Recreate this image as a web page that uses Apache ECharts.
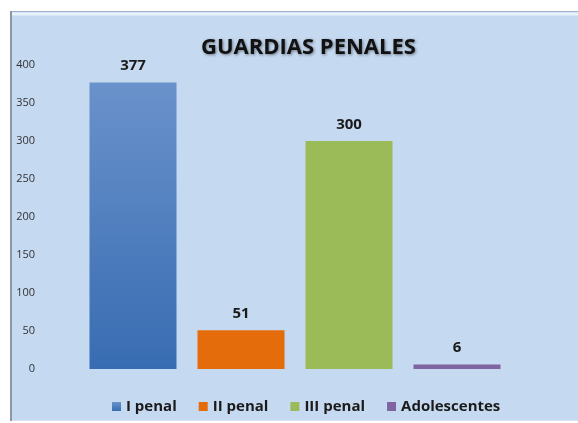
<!DOCTYPE html>
<html>
<head>
<meta charset="utf-8">
<script src="https://cdn.jsdelivr.net/npm/echarts@6/dist/echarts.min.js"></script>
<style>
  html, body { margin: 0; padding: 0; background: #fff; }
  #chart { width: 578px; height: 423px; }
</style>
</head>
<body>
<div id="chart"></div>
<script>
// datos del gráfico
const categories = ['I penal', 'II penal', 'III penal', 'Adolescentes'];
const values = [377, 51, 300, 6];
const colors = [
  new echarts.graphic.LinearGradient(0, 0, 0, 1, [
    { offset: 0, color: '#6a92cb' },
    { offset: 1, color: '#386cb2' }
  ]),
  '#e46c0a', '#9bbb59', '#8064a2'
];
const legendColors = ['#4a7cc0', '#e46c0a', '#9bbb59', '#8064a2'];
const yTicks = { min: 0, max: 400, interval: 50 };

let chartDom = document.getElementById('chart');
let myChart = echarts.init(chartDom);

// una serie por categoría para que la leyenda muestre cada color
let series = categories.map((name, i) => ({
  name: name,
  type: 'bar',
  barWidth: 87,
  barGap: '-100%',
  data: values.map((v, j) => (j === i ? v : '-')),
  itemStyle: { color: colors[i] },
  label: {
    show: true,
    position: 'top',
    distance: 9,
    color: '#1a1a1a',
    fontFamily: 'Open Sans',
    fontWeight: 'bold',
    fontSize: 15
  }
}));

let option = {
  backgroundColor: '#ffffff',
  color: legendColors,
  graphic: [
    {
      type: 'rect',
      z: -10,
      shape: { x: 10, y: 11, width: 568, height: 410 },
      style: { fill: '#c5d9f1' }
    },
    {
      type: 'line',
      z: -9,
      shape: { x1: 10, y1: 11.5, x2: 578, y2: 11.5 },
      style: { stroke: '#9fb1c8', lineWidth: 1 }
    },
    {
      type: 'line',
      z: -9,
      shape: { x1: 12, y1: 14, x2: 578, y2: 14 },
      style: { stroke: '#e8f4fc', lineWidth: 3 }
    },
    {
      type: 'line',
      z: -9,
      shape: { x1: 11, y1: 11, x2: 11, y2: 421 },
      style: { stroke: '#8d98a6', lineWidth: 2 }
    },
    {
      type: 'line',
      z: -9,
      shape: { x1: 12, y1: 420.5, x2: 578, y2: 420.5 },
      style: { stroke: '#d6e4f4', lineWidth: 1 }
    }
  ],
  title: {
    text: 'GUARDIAS PENALES',
    left: 196,
    top: 32,
    textStyle: {
      fontFamily: 'Open Sans',
      fontWeight: 'bold',
      fontSize: 22,
      color: '#111',
      textShadowColor: 'rgba(0,0,0,0.45)',
      textShadowBlur: 3,
      textShadowOffsetX: 1,
      textShadowOffsetY: 1
    }
  },
  legend: {
    data: categories,
    left: 107,
    top: 394,
    itemWidth: 9,
    itemHeight: 9,
    itemGap: 22,
    icon: 'rect',
    textStyle: {
      fontFamily: 'Open Sans',
      fontWeight: 'bold',
      fontSize: 15,
      color: '#1a1a1a'
    }
  },
  grid: { left: 79, right: 67, top: 65, bottom: 54 },
  xAxis: {
    type: 'category',
    data: categories,
    axisLine: { show: false },
    axisTick: { show: false },
    axisLabel: { show: false }
  },
  yAxis: {
    type: 'value',
    min: yTicks.min,
    max: yTicks.max,
    interval: yTicks.interval,
    splitLine: { show: false },
    axisLine: { show: false },
    axisTick: { show: false },
    axisLabel: {
      margin: 44,
      fontFamily: 'Open Sans',
      fontSize: 11,
      color: '#333'
    }
  },
  series: series
};

option && myChart.setOption(option);
</script>
</body>
</html>
